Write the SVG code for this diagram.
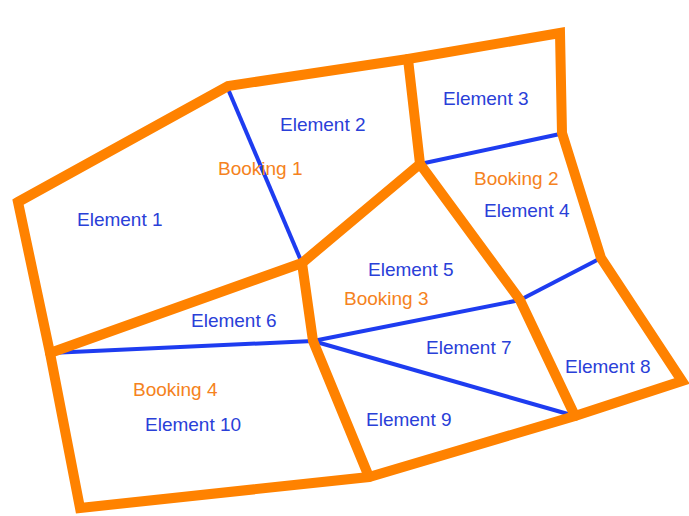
<svg xmlns="http://www.w3.org/2000/svg" width="689" height="516" viewBox="0 0 689 516">
<style>
.o{fill:none;stroke:#FF8200;stroke-width:10;stroke-linejoin:miter;stroke-linecap:round}
.b{fill:none;stroke:#1E3CF0;stroke-width:4;stroke-linecap:butt}
text{font-family:"Liberation Sans",Arial,sans-serif;font-size:19px}
.tb{fill:#2A40D8}
.to{fill:#F58220}
</style>
<rect width="689" height="516" fill="#fff"/>
<g id="connectors">
<path class="b" d="M228,89 L302,263"/>
<path class="b" d="M420,164 L560,134"/>
<path class="b" d="M520,300 L601,258"/>
<path class="b" d="M50,353 L313,341"/>
<path class="b" d="M313,341 L520,300"/>
<path class="b" d="M313,341 L575,416"/>
<path class="o" d="M18,202 L228,86 L408,59 L560,33 L562,133 L601,258 L682,381 L575,416 L369,477 L80,508 L50,353 Z"/>
<path class="o" d="M408,59 L420,164 L302,263 L50,353"/>
<path class="o" d="M302,263 L313,341 L369,477"/>
<path class="o" d="M420,164 L520,300 L575,416"/>
</g>
<g id="element1"><text class="tb" x="77" y="226">Element 1</text></g>
<g id="element2"><text class="tb" x="280" y="131">Element 2</text></g>
<g id="element3"><text class="tb" x="443" y="105">Element 3</text></g>
<g id="booking1"><text class="to" x="218" y="175">Booking 1</text></g>
<g id="booking2"><text class="to" x="474" y="185">Booking 2</text></g>
<g id="element4"><text class="tb" x="484" y="217">Element 4</text></g>
<g id="element5"><text class="tb" x="368" y="276">Element 5</text></g>
<g id="booking3"><text class="to" x="344" y="305">Booking 3</text></g>
<g id="element6"><text class="tb" x="191" y="327">Element 6</text></g>
<g id="element7"><text class="tb" x="426" y="354">Element 7</text></g>
<g id="element8"><text class="tb" x="565" y="373">Element 8</text></g>
<g id="booking4"><text class="to" x="133" y="396">Booking 4</text></g>
<g id="element10"><text class="tb" x="145" y="431">Element 10</text></g>
<g id="element9"><text class="tb" x="366" y="426">Element 9</text></g>
</svg>
